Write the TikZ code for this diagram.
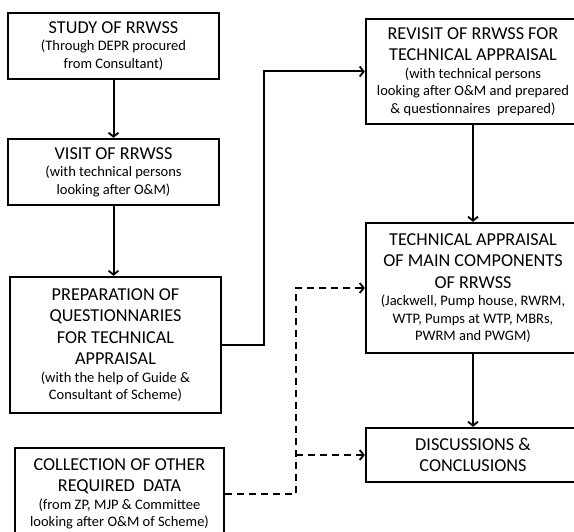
\documentclass[tikz,border=0pt]{standalone}
\usepackage{fontspec}
\setmainfont{Carlito}
\usetikzlibrary{arrows.meta}
\newcommand\boxtitle{\fontsize{18.2}{21.5}\selectfont}
\newcommand\boxsub{\fontsize{14.5}{17.5}\selectfont}
\tikzset{
  fbox/.style={draw, line width=2.3pt, rectangle, align=center, inner sep=0pt, font=\boxsub},
  conn/.style={line width=2pt, -{Straight Barb[length=4pt,width=10pt,line width=1.8pt]}},
  dconn/.style={conn, dash pattern=on 7pt off 5pt},
}
\begin{document}
\begin{tikzpicture}[x=1pt,y=-1pt]
\clip (0,0) rectangle (574,532);
\fill[white] (0,0) rectangle (574,532);
% left column
\node[fbox, minimum width=211pt, minimum height=66pt] (b1) at (113.5,46)
  {{\boxtitle STUDY OF RRWSS}\\[0pt] (Through DEPR procured\\ from Consultant)};
\node[fbox, minimum width=211pt, minimum height=66pt] (b2) at (113.5,172)
  {{\boxtitle VISIT OF RRWSS}\\[0pt] (with technical persons\\ looking after O\&M)};
\node[fbox, minimum width=211pt, minimum height=136pt] (b3) at (115.5,345)
  {{\boxtitle PREPARATION OF}\\[4pt] {\boxtitle QUESTIONNARIES}\\[4pt] {\boxtitle FOR TECHNICAL}\\[4pt] {\boxtitle APPRAISAL}\\[0pt] (with the help of Guide \&\\ Consultant of Scheme)};
\node[fbox, minimum width=209pt, minimum height=92pt] (b4) at (119.5,494)
  {{\boxtitle COLLECTION OF OTHER}\\[4pt] {\boxtitle REQUIRED\ \ DATA}\\[0pt] (from ZP, MJP \& Committee\\ looking after O\&M of Scheme)};
% right column
\node[fbox, minimum width=214pt, minimum height=105pt] (b5) at (473,71.5)
  {{\boxtitle REVISIT OF RRWSS FOR}\\[4pt] {\boxtitle TECHNICAL APPRAISAL}\\[0pt] (with technical persons\\ looking after O\&M and prepared\\ \& questionnaires\ \ prepared)};
\node[fbox, minimum width=214pt, minimum height=130pt] (b6) at (473,288)
  {{\boxtitle TECHNICAL APPRAISAL}\\[4pt] {\boxtitle OF MAIN COMPONENTS}\\[4pt] {\boxtitle OF RRWSS}\\[0pt] (Jackwell, Pump house, RWRM,\\ WTP, Pumps at WTP, MBRs,\\ PWRM and PWGM)};
\node[fbox, minimum width=214pt, minimum height=54pt] (b7) at (473,455)
  {{\boxtitle DISCUSSIONS \&}\\[4pt] {\boxtitle CONCLUSIONS}};
% connectors
\draw[conn] (b1) -- (b2);
\draw[conn] (b2.south) -- (b2.south |- b3.north);
\draw[conn] (b3.east) -- ++(42,0) |- (b5.west);
\draw[conn] (b5) -- (b6);
\draw[conn] (b6) -- (b7);
\coordinate (dj) at (296,494);
\draw[dconn] (b4.east) -- (dj) |- (b6.west);
\draw[dconn] (dj |- b7.west) -- (b7.west);
\end{tikzpicture}
\end{document}
